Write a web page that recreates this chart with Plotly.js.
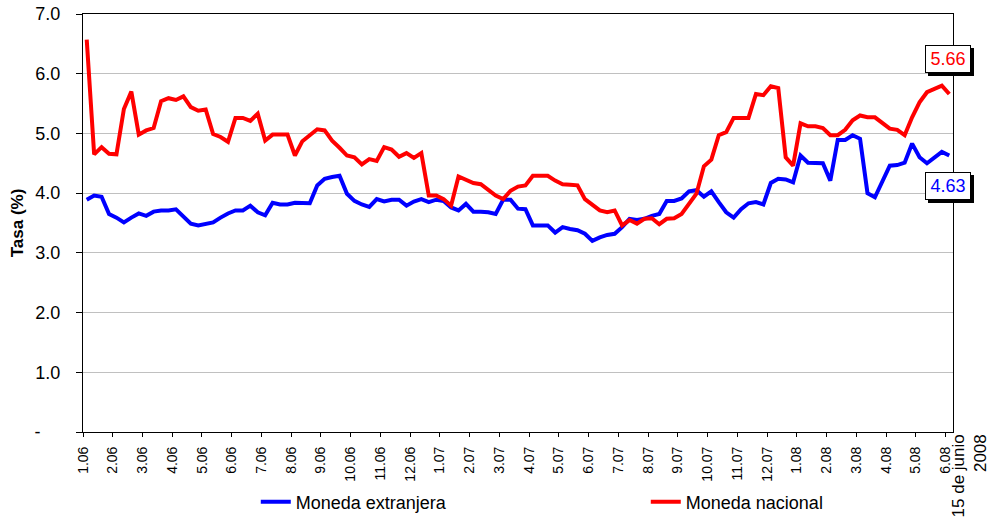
<!DOCTYPE html>
<html>
<head>
<meta charset="utf-8">
<script src="https://cdn.plot.ly/plotly-3.0.1.min.js"></script>
<style>html,body{margin:0;padding:0;background:#fff;}#chart{width:989px;height:518px;}</style>
</head>
<body>
<div id="chart"></div>
<script>
const monthLabels = ["1.06","2.06","3.06","4.06","5.06","6.06","7.06","8.06","9.06","10.06","11.06","12.06",
  "1.07","2.07","3.07","4.07","5.07","6.07","7.07","8.07","9.07","10.07","11.07","12.07",
  "1.08","2.08","3.08","4.08","5.08","6.08"];
const weeksPerLabel = 4;

const monedaExtranjera = [3.89,3.96,3.94,3.65,3.59,3.51,3.59,3.66,3.62,3.69,3.71,3.71,3.73,3.62,3.49,3.46,3.49,3.51,3.59,3.66,
  3.71,3.71,3.79,3.68,3.63,3.84,3.81,3.81,3.84,3.83,3.83,4.13,4.24,4.27,4.29,3.99,3.87,3.81,3.77,3.90,
  3.86,3.89,3.89,3.79,3.86,3.90,3.85,3.89,3.87,3.76,3.71,3.82,3.69,3.69,3.68,3.65,3.89,3.89,3.74,3.73,
  3.46,3.46,3.46,3.34,3.43,3.40,3.38,3.32,3.20,3.26,3.30,3.32,3.43,3.57,3.55,3.57,3.62,3.65,3.87,3.87,
  3.91,4.03,4.05,3.94,4.03,3.85,3.68,3.59,3.73,3.83,3.85,3.81,4.17,4.24,4.23,4.18,4.63,4.51,4.50,4.50,
  4.21,4.89,4.89,4.97,4.91,4.00,3.93,4.21,4.46,4.47,4.51,4.83,4.60,4.50,4.59,4.69,4.63];

const monedaNacional = [6.57,4.65,4.77,4.66,4.65,5.41,5.70,4.98,5.05,5.09,5.54,5.59,5.56,5.62,5.44,5.38,5.40,4.99,4.94,4.86,
  5.26,5.26,5.21,5.33,4.88,4.98,4.98,4.98,4.63,4.87,4.97,5.07,5.05,4.88,4.76,4.63,4.60,4.48,4.57,4.54,
  4.77,4.73,4.61,4.67,4.59,4.67,3.96,3.96,3.90,3.79,4.28,4.23,4.17,4.15,4.05,3.96,3.90,4.04,4.11,4.13,
  4.29,4.29,4.29,4.21,4.15,4.14,4.13,3.90,3.81,3.71,3.68,3.71,3.46,3.55,3.49,3.57,3.58,3.48,3.57,3.58,
  3.65,3.82,3.99,4.45,4.56,4.97,5.02,5.26,5.26,5.26,5.66,5.64,5.79,5.76,4.60,4.46,5.17,5.12,5.12,5.09,
  4.97,4.97,5.06,5.22,5.30,5.27,5.27,5.17,5.08,5.06,4.97,5.27,5.52,5.69,5.75,5.80,5.66];

const yTickVals = [0,1,2,3,4,5,6,7];
const yTickText = ["-\u00a0\u00a0\u00a0\u00a0","1.0","2.0","3.0","4.0","5.0","6.0","7.0"];
const endNote = "15 de junio<br>2008";

const n = monedaNacional.length;
const xs = monedaNacional.map((_, i) => i);
const tickVals = monthLabels.map((_, k) => k * weeksPerLabel - 0.5);
const lastE = monedaExtranjera[n - 1];
const lastN = monedaNacional[n - 1];

const FONT = "Liberation Sans, Arial, sans-serif";

const traces = [
  {x: xs, y: monedaExtranjera, type: "scatter", mode: "lines", name: "Moneda extranjera",
   line: {color: "#0000FF", width: 4}, legendwidth: 345},
  {x: xs, y: monedaNacional, type: "scatter", mode: "lines", name: "Moneda nacional",
   line: {color: "#FF0000", width: 4}}
];

function valueBox(val, color, yshift) {
  const base = {x: n - 1, y: val, xref: "x", yref: "y", text: val.toFixed(2), showarrow: false,
    font: {family: FONT, size: 18, color: color}, width: 40, height: 22, borderpad: 2,
    borderwidth: 1, bordercolor: "#000", bgcolor: "#fff", xshift: -1, yshift: yshift};
  const shadow = Object.assign({}, base, {text: "\u00a0", font: {family: FONT, size: 18, color: "#000"},
    bgcolor: "#000", xshift: base.xshift + 3, yshift: yshift - 3});
  return [shadow, base];
}

const layout = {
  width: 989, height: 518,
  margin: {l: 83, r: 35.5, t: 14, b: 86},
  paper_bgcolor: "#fff", plot_bgcolor: "#fff",
  font: {family: FONT, size: 18, color: "#000"},
  showlegend: true,
  legend: {orientation: "h", xref: "paper", x: 0.1986, xanchor: "left",
    yref: "container", y: 0.031, yanchor: "middle",
    font: {family: FONT, size: 18, color: "#000"}, bgcolor: "rgba(0,0,0,0)"},
  xaxis: {range: [-0.5, n - 0.5], tickmode: "array", tickvals: tickVals, ticktext: monthLabels,
    tickangle: -90, tickfont: {family: FONT, size: 14, color: "#000"}, automargin: false,
    ticks: "outside", ticklen: 4, tickcolor: "#000", showgrid: false, zeroline: false,
    showline: true, linecolor: "#000", linewidth: 1, mirror: true, ticklabelstandoff: 4},
  yaxis: {range: [0, 7], tickmode: "array", tickvals: yTickVals, ticktext: yTickText, automargin: false,
    tickfont: {family: FONT, size: 18, color: "#000"},
    ticks: "outside", ticklen: 6, tickcolor: "#000", showgrid: true, gridcolor: "#c0c0c0", gridwidth: 1,
    zeroline: false, showline: true, linecolor: "#000", linewidth: 1, mirror: true, ticklabelstandoff: 12,
    title: {text: "Tasa (%)", font: {family: FONT, size: 17, color: "#000", weight: "bold"}, standoff: 6}},
  annotations: [
    ...valueBox(lastN, "#FF0000", 35),
    ...valueBox(lastE, "#0000FF", -30),
    {xref: "paper", yref: "paper", x: 1.0185, y: -0.002, xanchor: "center", yanchor: "top",
     text: endNote, showarrow: false, textangle: -90, align: "right",
     font: {family: FONT, size: 17, color: "#000"}}
  ]
};

Plotly.newPlot("chart", traces, layout, {displayModeBar: false, staticPlot: true});
</script>
</body>
</html>
